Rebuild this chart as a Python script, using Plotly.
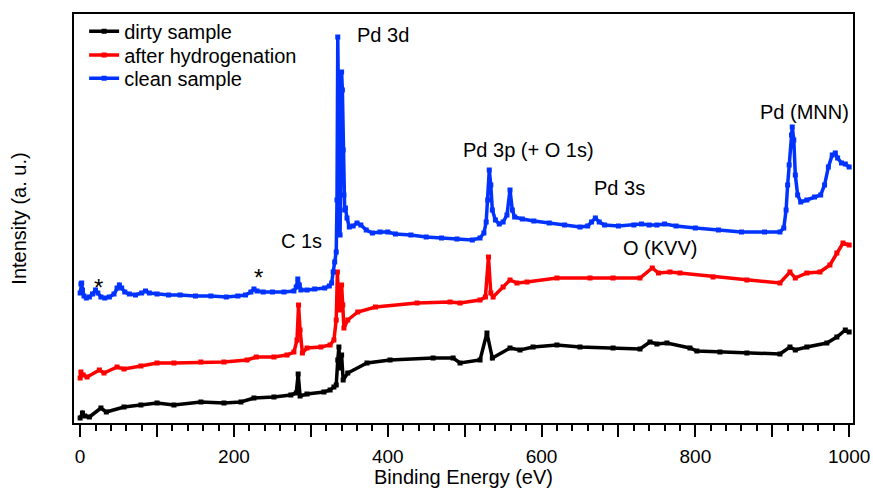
import plotly.graph_objects as go

# ---- data (binding energy in eV, intensity in arbitrary units) ----
clean_x = [0, 1, 2, 3, 5, 8, 12, 16, 20, 23, 27, 32, 38, 44, 48, 51, 54, 58, 64, 72, 80, 85, 90, 100,
           115, 130, 150, 170, 190, 205, 215, 222, 226, 230, 238, 250, 265, 278, 281, 283, 285, 287,
           295, 305, 318, 324, 327, 329, 331, 333, 334, 335, 336, 337, 338, 339, 340, 341, 342, 343,
           344, 345, 347, 350, 355, 360, 365, 372, 380, 390, 400, 410, 430, 450, 470, 490, 510, 520,
           525, 528, 530, 532, 534, 536, 540, 545, 550, 555, 559, 562, 565, 575, 590, 610, 630, 650,
           660, 665, 670, 675, 682, 700, 720, 730, 740, 750, 760, 775, 800, 830, 860, 890, 910, 915,
           918, 920, 922, 925, 926, 928, 930, 933, 937, 945, 955, 963, 968, 973, 978, 982, 985, 990,
           995, 1000]
clean_y = [131, 140, 141, 134, 128, 126, 127, 130, 134, 131, 127, 126, 127, 130, 136, 139, 136, 132,
           130, 129, 131, 133, 131, 130, 129, 129, 128, 128, 127, 128, 129, 132, 135, 133, 132, 132,
           132, 133, 137, 145, 139, 134, 134, 135, 136, 138, 141, 152, 162, 172, 224, 387, 314, 224,
           189, 254, 352, 334, 274, 229, 214, 216, 206, 197, 198, 201, 199, 194, 191, 192, 192, 190,
           189, 187, 186, 185, 184, 186, 191, 202, 224, 254, 239, 214, 204, 200, 202, 209, 234, 214,
           207, 205, 203, 201, 199, 197, 198, 202, 206, 202, 199, 198, 199, 200, 199, 199, 200, 198,
           196, 194, 192, 192, 192, 196, 214, 239, 259, 289, 297, 284, 249, 229, 222, 224, 227, 229,
           239, 257, 269, 271, 266, 261, 260, 257]

hydro_x = [0, 1, 4, 9, 25, 31, 48, 57, 79, 100, 122, 157, 187, 217, 229, 252, 269, 278, 282, 284,
           286, 289, 295, 313, 325, 330, 333, 334.5, 336, 338, 340, 341.5, 343, 348, 361, 384, 438,
           481, 494, 520, 527, 531, 534, 537, 550, 559, 568, 581, 620, 663, 693, 728, 744, 752, 767,
           780, 823, 867, 910, 923, 930, 945, 962, 975, 984, 992, 1000]
hydro_y = [46, 52, 49, 47, 54, 51, 57, 55, 58, 61, 61, 62, 62, 64, 67, 67, 69, 72, 84, 119, 94, 71,
           76, 77, 79, 84, 104, 152, 124, 114, 139, 119, 96, 104, 112, 117, 121, 122, 121, 124, 127,
           167, 131, 127, 137, 144, 141, 142, 146, 146, 146, 146, 156, 151, 152, 151, 147, 144, 141,
           152, 146, 151, 152, 159, 171, 181, 179]

dirty_x = [0, 3, 6, 12, 27, 34, 57, 79, 100, 122, 157, 187, 209, 226, 252, 274, 281, 283.5, 286,
           295, 317, 325, 330, 333, 335, 336.5, 338, 340, 342, 348, 373, 403, 459, 485, 494, 520, 529,
           536, 559, 572, 589, 620, 650, 693, 728, 741, 750, 763, 793, 802, 832, 867, 910, 923, 930,
           945, 971, 984, 995, 1000]
dirty_y = [6, 11, 8, 7, 16, 12, 17, 19, 21, 19, 22, 21, 22, 26, 27, 29, 31, 50, 28, 30, 32, 34, 37,
           39, 64, 77, 56, 69, 44, 51, 61, 64, 66, 66, 61, 64, 91, 66, 76, 74, 77, 79, 77, 76, 75,
           82, 80, 81, 76, 73, 72, 71, 70, 77, 74, 77, 81, 87, 94, 92]

x_ticks = [0, 100, 200, 300, 400, 500, 600, 700, 800, 900, 1000]
x_tick_text = ["0", "", "200", "", "400", "", "600", "", "800", "", "1000"]

series = [
    ("dirty sample", dirty_x, dirty_y, "#000000", "legend"),
    ("after hydrogenation", hydro_x, hydro_y, "#ff0000", "legend2"),
    ("clean sample", clean_x, clean_y, "#0033ff", "legend3"),
]

labels = [
    ("Pd 3d", 357, 389, 20),
    ("Pd 3p (+ O 1s)", 495, 274, 20),
    ("Pd 3s", 666, 236, 20),
    ("Pd (MNN)", 882, 312, 20),
    ("C 1s", 259, 183, 20),
    ("O (KVV)", 703, 176, 20),
    ("*", 15, 137, 24),
    ("*", 224, 147, 24),
]

FONT = "Liberation Sans, Arial, sans-serif"

fig = go.Figure()
for name, xs, ys, col, leg in series:
    fig.add_trace(go.Scatter(
        x=xs, y=ys, name=name, mode="lines+markers", legend=leg,
        line=dict(color=col, width=3.5),
        marker=dict(symbol="square", size=5, color=col),
    ))

for text, lx, ly, fs in labels:
    fig.add_annotation(x=lx, y=ly, text=text, showarrow=False, xanchor="left",
                       yanchor="middle", font=dict(size=fs, color="black", family=FONT))

leg_common = dict(x=0.013, xanchor="left", yanchor="middle",
                  bgcolor="rgba(0,0,0,0)", font=dict(size=20), itemwidth=30)

fig.update_layout(
    width=873, height=488,
    margin=dict(l=74, r=20, t=14, b=65),
    paper_bgcolor="white", plot_bgcolor="white",
    font=dict(family=FONT, size=20, color="black"),
    showlegend=True,
    legend=dict(y=0.958, **leg_common),
    legend2=dict(y=0.900, **leg_common),
    legend3=dict(y=0.843, **leg_common),
)
fig.update_xaxes(
    range=[-8, 1005], showgrid=False, zeroline=False, automargin=False,
    showline=True, linecolor="black", linewidth=2, mirror=True,
    ticks="outside", ticklen=12, tickwidth=1.5, tickcolor="black",
    tickmode="array", tickvals=x_ticks, ticktext=x_tick_text,
    ticklabelstandoff=3,
    minor=dict(tickmode="linear", tick0=0, dtick=20, ticks="outside", ticklen=6,
               tickwidth=1.5, tickcolor="black"),
    tickfont=dict(size=19),
    title=dict(text="Binding Energy (eV)", font=dict(size=20), standoff=5),
)
fig.update_yaxes(
    range=[1, 410], showgrid=False, zeroline=False, automargin=False,
    showline=True, linecolor="black", linewidth=2, mirror=True,
    ticks="", showticklabels=False,
    title=dict(text="Intensity (a. u.)", font=dict(size=20), standoff=40),
)

fig.write_html("out.html", config={"displayModeBar": False},
               post_script="document.body.style.margin='0px';")
